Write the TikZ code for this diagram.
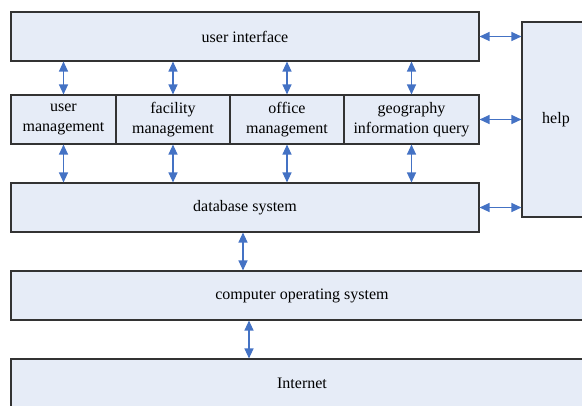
\documentclass[tikz,border=0pt]{standalone}
\usepackage{fontspec}
\setmainfont{Liberation Serif}
\usepackage{tikz}
\usetikzlibrary{arrows.meta}
\definecolor{boxfill}{HTML}{E6ECF7}
\definecolor{arrowblue}{HTML}{4472C4}

\begin{document}
\begin{tikzpicture}[x=1pt,y=-1pt]
\useasboundingbox (0,0) rectangle (582,405);
\begin{scope}[every node/.style={rectangle,draw=black!80,line width=1.1pt,fill=boxfill,
              inner sep=0pt,minimum height=49pt,align=center,
              font=\fontsize{16}{20}\selectfont}]
	%the layers, each one placed at the centre of its box
    \node[minimum width=468pt] (ui) at (245,36.5) {user interface};
    \node[minimum width=105pt] (um) at (63.5,119.5) {user\\management};
    \node[minimum width=114pt] (fm) at (173,119.5) {facility\\management};
    \node[minimum width=114pt] (om) at (287,119.5) {office\\management};
    \node[minimum width=135pt] (gq) at (411.5,119.5) {geography\\information query};
    \node[minimum width=468pt] (db) at (245,207.5) {database system};
    \node[minimum width=68pt,minimum height=195pt] (help) at (556,119.5) {help};
    \node[minimum width=582pt] (cos) at (302,295.5) {computer operating system};
    \node[minimum width=582pt] (inet) at (302,383.5) {Internet};
\end{scope}

%the blue double arrows between the layers
\begin{scope}[>={Triangle[length=10pt,width=9pt]},
              every edge/.style={draw=arrowblue,line width=1.2pt}]
    %from the user interface down to the four modules
    \path [<->] (um.north) edge (um.north |- ui.south);
    \path [<->] (fm.north) edge (fm.north |- ui.south);
    \path [<->] (om.north) edge (om.north |- ui.south);
    \path [<->] (gq.north) edge (gq.north |- ui.south);
    %from the modules down to the database
    \path [<->] (um.south) edge (um.south |- db.north);
    \path [<->] (fm.south) edge (fm.south |- db.north);
    \path [<->] (om.south) edge (om.south |- db.north);
    \path [<->] (gq.south) edge (gq.south |- db.north);
    %across to help
    \path [<->] (ui.east) edge (ui.east -| help.west);
    \path [<->] (gq.east) edge (gq.east -| help.west);
    \path [<->] (db.east) edge (db.east -| help.west);
    %down to the operating system and the internet
    \path [<->] ([xshift=-2pt]db.south) edge ([xshift=-2pt]db.south |- cos.north);
    \path [<->] ([xshift=-53pt]cos.south) edge ([xshift=-53pt]inet.north);
\end{scope}
\end{tikzpicture}
\end{document}
